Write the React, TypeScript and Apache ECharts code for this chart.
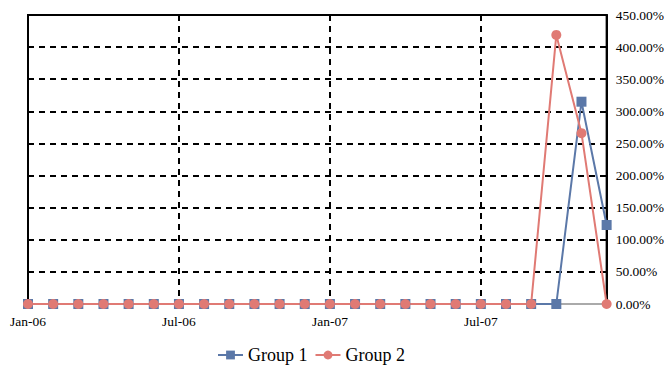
import React, { useEffect, useRef } from "react";
import * as echarts from "echarts";

const months = [
  "Jan-06", "Feb-06", "Mar-06", "Apr-06", "May-06", "Jun-06",
  "Jul-06", "Aug-06", "Sep-06", "Oct-06", "Nov-06", "Dec-06",
  "Jan-07", "Feb-07", "Mar-07", "Apr-07", "May-07", "Jun-07",
  "Jul-07", "Aug-07", "Sep-07", "Oct-07", "Nov-07", "Dec-07",
];
const group1 = [0, 0, 0, 0, 0, 0, 0, 0, 0, 0, 0, 0, 0, 0, 0, 0, 0, 0, 0, 0, 0, 0, 315, 123];
const group2 = [0, 0, 0, 0, 0, 0, 0, 0, 0, 0, 0, 0, 0, 0, 0, 0, 0, 0, 0, 0, 0, 419, 266, 0];

const BLUE = "#5b78a8";
const RED = "#e07a74";
const FONT = "'Liberation Serif', 'Times New Roman', serif";

export default function App() {
  const ref = useRef<HTMLDivElement>(null);
  useEffect(() => {
    if (!ref.current) return;
    const chart = echarts.init(ref.current, null, { renderer: "svg" });
    chart.setOption({
      animation: false,
      backgroundColor: "#fff",
      textStyle: { fontFamily: FONT },
      grid: {
        left: 28, right: 60, top: 15, bottom: 62,
        show: true, borderColor: "#000", borderWidth: 2, backgroundColor: "transparent",
      },
      legend: {
        left: 212, top: 341, padding: 5,
        itemWidth: 25, itemHeight: 11, itemGap: 7,
        textStyle: { fontFamily: FONT, fontSize: 18, color: "#000", lineHeight: 18 },
        data: ["Group 1", "Group 2"],
      },
      xAxis: {
        type: "category",
        data: months,
        boundaryGap: false,
        axisLine: { show: true, lineStyle: { color: "#aaaaaa", width: 2 } },
        axisTick: { show: false },
        axisLabel: { interval: 5, color: "#000", fontFamily: FONT, fontSize: 13.5, margin: 10 },
        splitLine: {
          show: true, interval: 5,
          lineStyle: { color: "#000", width: 2, type: [6, 5] },
        },
      },
      yAxis: {
        type: "value",
        position: "right",
        min: 0, max: 450, interval: 50,
        axisLine: { show: true, lineStyle: { color: "#000", width: 2 } },
        axisTick: { show: false },
        axisLabel: {
          color: "#000", fontFamily: FONT, fontSize: 13.5, margin: 9,
          formatter: (v: number) => v.toFixed(2) + "%",
        },
        splitLine: { show: true, lineStyle: { color: "#000", width: 2, type: [6, 5] } },
      },
      series: [
        {
          name: "Group 1", type: "line", data: group1,
          symbol: "rect", symbolSize: 10,
          itemStyle: { color: BLUE }, lineStyle: { color: BLUE, width: 2 },
        },
        {
          name: "Group 2", type: "line", data: group2,
          symbol: "circle", symbolSize: 10,
          itemStyle: { color: RED }, lineStyle: { color: RED, width: 2 },
        },
      ],
    });
    return () => chart.dispose();
  }, []);
  return <div ref={ref} style={{ width: 667, height: 366, position: "absolute", left: 0, top: 0 }} />;
}
